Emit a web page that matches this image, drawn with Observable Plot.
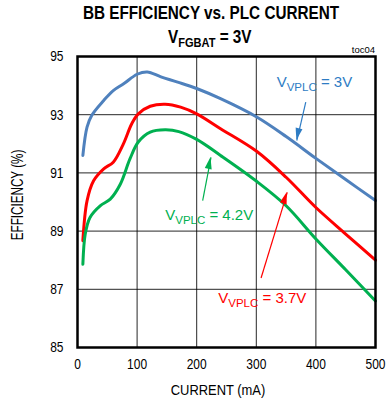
<!DOCTYPE html>
<html>
<head>
<meta charset="utf-8">
<script src="https://cdn.jsdelivr.net/npm/d3@7"></script>
<script src="https://cdn.jsdelivr.net/npm/@observablehq/plot@0.6"></script>
<style>
  html, body { margin: 0; padding: 0; background: #fff; }
  svg { display: block; }
</style>
</head>
<body>
<div id="chart"></div>
<script>
// ---- data ----
const series = ["3V", "3.7V", "4.2V"];
const blueCurrent = [9, 16, 24, 44, 60, 78, 100, 117, 140, 168, 200, 240, 300, 350, 400, 450, 500];
const blueEff     = [91.6, 92.57, 92.98, 93.49, 93.83, 94.07, 94.39, 94.47, 94.3, 94.12, 93.9, 93.55, 92.93, 92.25, 91.5, 90.77, 90.05];
const redCurrent  = [9, 16, 27, 44, 60, 77, 91, 102, 122, 147, 173, 200, 240, 300, 350, 400, 450, 500];
const redEff      = [88.67, 90.04, 90.73, 91.14, 91.37, 92.0, 92.69, 93.03, 93.29, 93.36, 93.26, 93.03, 92.52, 91.75, 90.85, 89.81, 88.9, 88.0];
const greenCurrent = [9, 13, 21, 38, 55, 72, 88, 102, 122, 147, 170, 200, 240, 300, 350, 400, 450, 500];
const greenEff     = [87.86, 88.9, 89.47, 89.87, 90.1, 90.62, 91.48, 92.06, 92.4, 92.48, 92.42, 92.15, 91.6, 90.72, 89.87, 88.73, 87.67, 86.6];
const xTicks = [0, 100, 200, 300, 400, 500];
const yTicks = [85, 87, 89, 91, 93, 95];

// annotations (data units): label value, text anchor point, arrow tail, arrow tip
const annValues = ["3V", "4.2V", "3.7V"];
const annTextX = [335, 148, 237];
const annTextY = [93.93, 89.36, 86.5];
const annTailX = [383, 210, 308];
const annTailY = [93.43, 90.05, 87.39];
const annTipX  = [368, 224, 352];
const annTipY  = [92.11, 91.53, 90.33];

const colors = ["#4f81bd", "#ff0000", "#00b050"];
const textColors = ["#2e7cc4", "#00b050", "#ff0000"];

const rows = [];
blueCurrent.forEach((c, i) => rows.push({s: series[0], x: c, y: blueEff[i]}));
redCurrent.forEach((c, i) => rows.push({s: series[1], x: c, y: redEff[i]}));
greenCurrent.forEach((c, i) => rows.push({s: series[2], x: c, y: greenEff[i]}));

const arrows = annValues.map((v, i) => ({x1: annTailX[i], y1: annTailY[i], x2: annTipX[i], y2: annTipY[i], c: textColors[i]}));

const font = "'Liberation Sans', Arial, sans-serif";

const chart = Plot.plot({
  width: 386,
  height: 402,
  marginTop: 56,
  marginBottom: 55,
  marginLeft: 77,
  marginRight: 11,
  style: {fontFamily: font, fontSize: "15px", color: "#000", background: "#fff"},
  x: {domain: [0, 500]},
  y: {domain: [85, 95]},
  marks: [
    Plot.gridX(xTicks.slice(1, -1), {stroke: "#000", strokeOpacity: 0.85, strokeWidth: 1}),
    Plot.gridY(yTicks.slice(1, -1), {stroke: "#000", strokeOpacity: 0.85, strokeWidth: 1}),
    Plot.axisX({ticks: xTicks, tickSize: 0, tickPadding: 11, label: null, fontSize: 15}),
    Plot.axisY({ticks: yTicks, tickSize: 0, tickPadding: 14, label: null, fontSize: 15}),
    Plot.line(rows, {x: "x", y: "y", z: "s", stroke: "s", strokeWidth: 3, curve: "catmull-rom"}),
    Plot.link(arrows, {x1: "x1", y1: "y1", x2: "x2", y2: "y2", stroke: "c", strokeWidth: 1.2}),
    Plot.frame({stroke: "#000", strokeWidth: 2.5})
  ],
  color: {domain: series, range: colors}
});

document.getElementById("chart").appendChild(chart);

const svg = d3.select(chart);
const sx = chart.scale("x"), sy = chart.scale("y");

// condense tick labels horizontally (reference uses a narrow face)
svg.selectAll("g[aria-label='x-axis tick label'] text, g[aria-label='y-axis tick label'] text")
  .each(function() {
    const tr = this.getAttribute("transform") || "";
    this.setAttribute("transform", tr + " scale(0.8,1)");
  });

// arrow heads
arrows.forEach(a => {
  const x1 = sx.apply(a.x1), y1 = sy.apply(a.y1), x2 = sx.apply(a.x2), y2 = sy.apply(a.y2);
  const ang = Math.atan2(y2 - y1, x2 - x1);
  const L = 12, W = 3.5;
  const bx = x2 - L * Math.cos(ang), by = y2 - L * Math.sin(ang);
  const px = -Math.sin(ang) * W, py = Math.cos(ang) * W;
  svg.append("path")
    .attr("d", `M${x2},${y2}L${bx + px},${by + py}L${bx - px},${by - py}Z`)
    .attr("fill", a.c);
});

// annotation labels with subscripts
annValues.forEach((v, i) => {
  const t = svg.append("text")
    .attr("x", sx.apply(annTextX[i]))
    .attr("y", sy.apply(annTextY[i]))
    .attr("text-anchor", "start")
    .attr("fill", textColors[i])
    .attr("font-family", font)
    .attr("font-size", 15);
  t.append("tspan").text("V");
  t.append("tspan").attr("font-size", 11.5).attr("dy", 4).text("VPLC");
  t.append("tspan").attr("dy", -4).text(" = " + v);
});

// title
svg.append("text")
  .attr("transform", "translate(211,19) scale(0.85,1)")
  .attr("text-anchor", "middle")
  .attr("font-family", font).attr("font-weight", "bold").attr("font-size", 18)
  .attr("fill", "#000")
  .text("BB EFFICIENCY vs. PLC CURRENT");
const t2 = svg.append("text")
  .attr("transform", "translate(168,43) scale(0.85,1)")
  .attr("text-anchor", "start")
  .attr("font-family", font).attr("font-weight", "bold").attr("font-size", 18)
  .attr("fill", "#000");
t2.append("tspan").text("V");
t2.append("tspan").attr("font-size", 13).attr("dy", 4).text("FGBAT");
t2.append("tspan").attr("dy", -4).text(" = 3V");

// toc04
svg.append("text")
  .attr("x", 375).attr("y", 53)
  .attr("text-anchor", "end")
  .attr("font-family", font).attr("font-size", 9.5)
  .attr("fill", "#000")
  .text("toc04");

// axis titles
svg.append("text")
  .attr("transform", `translate(${(sx.apply(0) + sx.apply(500)) / 2 - 8},395) scale(0.835,1)`)
  .attr("text-anchor", "middle")
  .attr("font-family", font).attr("font-size", 15.5)
  .attr("fill", "#000")
  .text("CURRENT (mA)");
svg.append("text")
  .attr("transform", "translate(23,195) rotate(-90) scale(0.73,1)")
  .attr("text-anchor", "middle")
  .attr("font-family", font).attr("font-size", 16)
  .attr("fill", "#000")
  .text("EFFICIENCY (%)");
</script>
</body>
</html>
